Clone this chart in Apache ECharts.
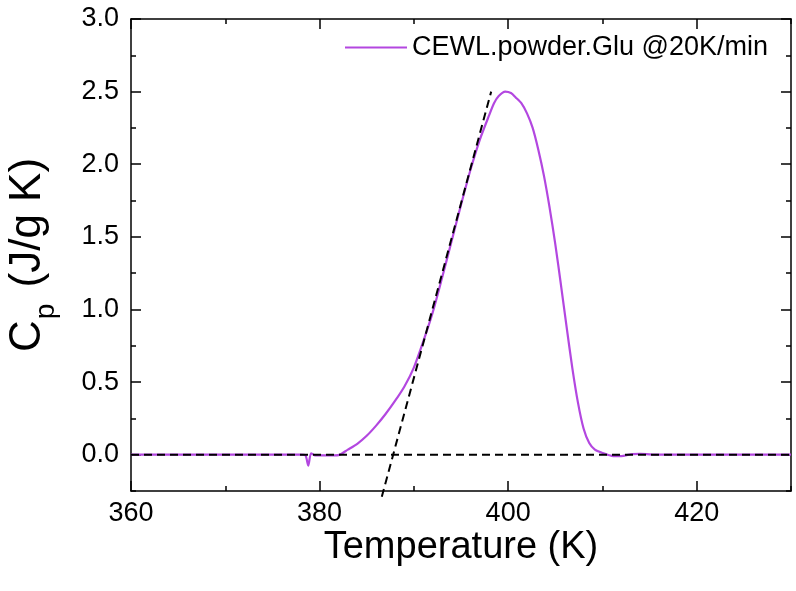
<!DOCTYPE html>
<html>
<head>
<meta charset="utf-8">
<script src="https://cdn.jsdelivr.net/npm/echarts@6/dist/echarts.min.js"></script>
<style>
  html, body { margin: 0; padding: 0; background: #fff; }
  #chart { width: 796px; height: 591px; }
</style>
</head>
<body>
<div id="chart"></div>
<script>
// temperature (K) and heat capacity Cp (J/g K)
const temps = [360, 365, 370, 375, 378, 378.5, 378.8, 379.1, 379.5, 380, 381, 382, 383, 384, 385, 386, 387, 388, 389, 390, 391, 392, 393, 394, 395, 396, 397, 398, 398.5, 399, 399.7, 400.3, 400.8, 401.4, 402, 402.6, 403.2, 403.8, 404.4, 405, 405.6, 406.2, 406.8, 407.4, 408, 408.6, 409.2, 410, 411, 412, 413, 414, 416, 420, 425, 430];
const cpValues = [0, 0, 0, 0, 0, -0.005, -0.075, 0.01, -0.005, -0.005, -0.005, -0.003, 0.035, 0.075, 0.13, 0.2, 0.28, 0.37, 0.47, 0.6, 0.78, 0.98, 1.22, 1.47, 1.72, 1.96, 2.17, 2.34, 2.42, 2.47, 2.5, 2.49, 2.46, 2.42, 2.35, 2.25, 2.1, 1.92, 1.7, 1.45, 1.17, 0.88, 0.6, 0.36, 0.18, 0.08, 0.035, 0.012, -0.008, -0.01, 0.003, 0.005, 0, 0, 0, 0];

// dashed guides: baseline and onset tangent
const baseline = [[360, 0], [430, 0]];
const tangent = [[386.6, -0.29], [398.2, 2.5]];

const seriesName = 'CEWL.powder.Glu @20K/min';
const xMajor = [360, 380, 400, 420];
const yMajor = [0, 0.5, 1, 1.5, 2, 2.5, 3];

const font = 'Arial, "Liberation Sans", sans-serif';
const black = '#000';
const purple = '#b347e0';

function xAxisDef(position, major, withLabel) {
  return {
    type: 'value',
    position: position,
    min: 360,
    max: 430,
    interval: 10,
    splitLine: { show: false },
    axisLine: { show: !major, onZero: false, lineStyle: { color: black, width: 1.5 } },
    axisTick: major
      ? { show: true, inside: true, length: 10, customValues: xMajor, lineStyle: { color: black, width: 1.5 } }
      : { show: true, inside: true, length: 5, lineStyle: { color: black, width: 1.5 } },
    axisLabel: withLabel
      ? { show: true, customValues: xMajor, fontSize: 27, fontFamily: font, color: black, margin: 9 }
      : { show: false },
    name: withLabel ? 'Temperature (K)' : '',
    nameLocation: 'middle',
    nameGap: 38,
    nameMoveOverlap: false,
    nameTextStyle: { fontSize: 38, fontFamily: font, color: black }
  };
}

function yAxisDef(position, major, withLabel) {
  return {
    type: 'value',
    position: position,
    min: -0.25,
    max: 3,
    interval: 0.25,
    splitLine: { show: false },
    axisLine: { show: !major, onZero: false, lineStyle: { color: black, width: 1.5 } },
    axisTick: major
      ? { show: true, inside: true, length: 10, customValues: yMajor, lineStyle: { color: black, width: 1.5 } }
      : { show: true, inside: true, length: 5, lineStyle: { color: black, width: 1.5 } },
    axisLabel: withLabel
      ? { show: true, customValues: yMajor, fontSize: 27, fontFamily: font, color: black, margin: 12,
          formatter: v => v.toFixed(1) }
      : { show: false },
    name: withLabel ? '{c|C}{p|p}{c| (J/g K)}' : '',
    nameLocation: 'middle',
    nameRotate: 90,
    nameGap: 71,
    nameMoveOverlap: false,
    nameTextStyle: {
      fontFamily: font, color: black,
      rich: {
        c: { fontSize: 44, fontFamily: font, color: black, lineHeight: 50, verticalAlign: 'bottom', padding: [0, 0, 10, 0] },
        p: { fontSize: 28, fontFamily: font, color: black, lineHeight: 26, verticalAlign: 'bottom', padding: [0, 4, 0, 1] }
      }
    }
  };
}

const chart = echarts.init(document.getElementById('chart'), null, { renderer: 'canvas' });

const option = {
  animation: false,
  backgroundColor: '#fff',
  grid: { left: 131, right: 5, top: 19, bottom: 100, containLabel: false, outerBoundsMode: 'none' },
  legend: {
    data: [{ name: seriesName, icon: 'rect' }],
    left: 340,
    top: 29,
    itemWidth: 62,
    itemHeight: 2,
    itemGap: 8,
    itemStyle: { color: purple },
    textStyle: { fontSize: 27, fontFamily: font, color: black }
  },
  xAxis: [
    xAxisDef('bottom', false, false),
    xAxisDef('bottom', true, true),
    xAxisDef('top', false, false),
    xAxisDef('top', true, false)
  ],
  yAxis: [
    yAxisDef('left', false, false),
    yAxisDef('left', true, true),
    yAxisDef('right', false, false),
    yAxisDef('right', true, false)
  ],
  series: [
    {
      name: seriesName,
      type: 'line',
      xAxisIndex: 0,
      yAxisIndex: 0,
      data: temps.map((t, i) => [t, cpValues[i]]),
      smooth: 0.25,
      symbol: 'none',
      lineStyle: { color: purple, width: 2.2 },
      itemStyle: { color: purple },
      z: 2
    },
    {
      name: 'baseline',
      type: 'line',
      data: baseline,
      symbol: 'none',
      lineStyle: { color: black, width: 2, type: [8, 5] },
      z: 3
    },
    {
      name: 'tangent',
      type: 'line',
      data: tangent,
      symbol: 'none',
      clip: false,
      lineStyle: { color: black, width: 2, type: [8, 5] },
      z: 3
    }
  ]
};

chart.setOption(option);
</script>
</body>
</html>
